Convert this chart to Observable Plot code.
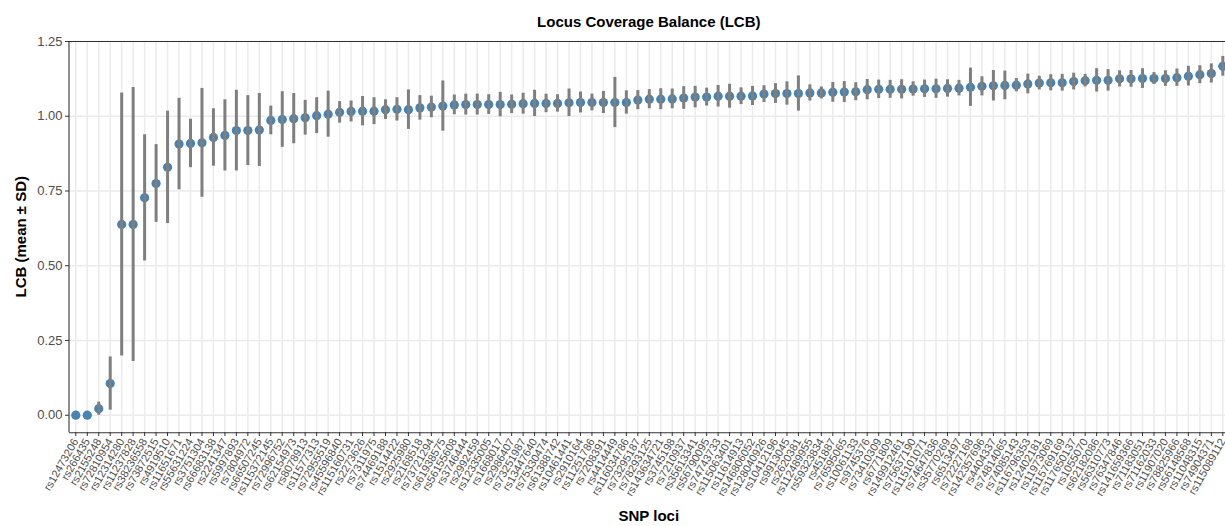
<!DOCTYPE html>
<html>
<head>
<meta charset="utf-8">
<script src="https://cdn.jsdelivr.net/npm/d3@7"></script>
<script src="https://cdn.jsdelivr.net/npm/@observablehq/plot@0.6"></script>
<style>
  html, body { margin: 0; padding: 0; background: #fff; }
  #chart svg { display: block; }
</style>
</head>
<body>
<div id="chart"></div>
<script>
// SNP loci, ordered by mean locus coverage balance
const loci = [
  "rs12473206","rs266435","rs2155248","rs72810954","rs12314280","rs11237828","rs38236558","rs73872515","rs4919510","rs11651671",
  "rs55631224","rs3751304","rs66683138","rs2241347","rs5997893","rs7804972","rs66507245","rs115372145","rs72996752","rs62154973",
  "rs8078913","rs11577313","rs72955519","rs45596840","rs115160731","rs2273626","rs7311975","rs74469188","rs1514422","rs2925980",
  "rs2168518","rs73721294","rs61938575","rs56155608","rs3746444","rs2992459","rs12335005","rs1668017","rs2986407","rs73251987",
  "rs13447640","rs75330474","rs61388742","rs10461441","rs2910164","rs11251786","rs7208391","rs4414449","rs116034786","rs73295187",
  "rs78293125","rs143634721","rs3745198","rs7210937","rs35613341","rs56790095","rs74743733","rs115063401","rs11614913","rs146806052",
  "rs128040926","rs10412196","rs9913045","rs2620381","rs112489955","rs59323834","rs451887","rs76595065","rs10061133","rs9745376",
  "rs73410309","rs6771809","rs149912461","rs75637190","rs115101071","rs74647836","rs35770269","rs6513497","rs72227168","rs142357696",
  "rs4404337","rs74814065","rs74085143","rs116796353","rs12402181","rs11973069","rs115769169","rs117650137","rs1055070","rs62182086",
  "rs56310773","rs76347846","rs141659366","rs71183051","rs71162033","rs11907020","rs78825966","rs56148568","rs11048315","rs74904371",
  "rs115089112"
];

// mean LCB per locus
const lcbMean = [
  0.000,0.000,0.022,0.106,0.638,0.638,0.727,0.775,0.829,0.907,
  0.909,0.911,0.929,0.936,0.952,0.952,0.954,0.986,0.989,0.992,
  0.995,1.002,1.007,1.013,1.016,1.017,1.017,1.022,1.023,1.022,
  1.028,1.031,1.034,1.038,1.039,1.039,1.039,1.039,1.040,1.042,
  1.043,1.043,1.043,1.045,1.046,1.046,1.046,1.046,1.046,1.054,
  1.057,1.057,1.058,1.061,1.064,1.064,1.067,1.067,1.067,1.068,
  1.074,1.076,1.076,1.076,1.078,1.078,1.080,1.081,1.082,1.089,
  1.090,1.090,1.090,1.091,1.092,1.092,1.093,1.094,1.097,1.100,
  1.102,1.103,1.104,1.108,1.111,1.112,1.112,1.116,1.119,1.120,
  1.120,1.125,1.125,1.126,1.126,1.126,1.129,1.134,1.139,1.143,
  1.167
];

// standard deviation of LCB per locus
const lcbSD = [
  0.000,0.000,0.022,0.089,0.440,0.458,0.211,0.130,0.188,0.153,
  0.081,0.182,0.096,0.119,0.135,0.117,0.122,0.048,0.093,0.084,
  0.058,0.060,0.077,0.036,0.035,0.049,0.045,0.033,0.039,0.066,
  0.041,0.036,0.084,0.033,0.035,0.035,0.033,0.041,0.031,0.035,
  0.044,0.031,0.029,0.046,0.035,0.028,0.037,0.084,0.039,0.032,
  0.032,0.035,0.033,0.038,0.036,0.030,0.036,0.040,0.028,0.032,
  0.028,0.033,0.039,0.059,0.027,0.020,0.033,0.035,0.030,0.034,
  0.031,0.030,0.032,0.024,0.029,0.032,0.029,0.026,0.064,0.032,
  0.051,0.048,0.022,0.033,0.023,0.027,0.028,0.028,0.021,0.039,
  0.036,0.027,0.028,0.033,0.020,0.026,0.029,0.033,0.030,0.032,
  0.033
];

const yTicks = [0, 0.25, 0.5, 0.75, 1.0, 1.25];

const rows = loci.map((locus, i) => ({locus, mean: lcbMean[i], sd: lcbSD[i]}));

const W = 1225, H = 526;
const font = "'Liberation Sans', Arial, Helvetica, sans-serif";
const yMin = -0.0588, yMax = 1.25;

const chart = Plot.plot({
  width: W,
  height: H,
  marginTop: 41,
  marginBottom: 94,
  marginLeft: 69,
  marginRight: 0,
  style: {fontFamily: font, background: "#fff"},
  // the panel runs a few pixels past the right edge of the canvas
  x: {type: "point", domain: loci, range: [75.3, 1222.3], padding: 0, label: null},
  y: {domain: [yMin, yMax], range: [432.3, 41], label: null},
  marks: [
    Plot.gridX(loci, {stroke: "#ebebeb", strokeOpacity: 1, strokeWidth: 1.5}),
    Plot.gridY(yTicks, {stroke: "#ebebeb", strokeOpacity: 1, strokeWidth: 1.5}),
    // panel border: top and bottom edges
    Plot.ruleY([yMin, yMax], {stroke: "#333", strokeWidth: 1.1}),
    Plot.axisY(yTicks, {
      tickSize: 4, tickPadding: 3, fontSize: 13, color: "#4d4d4d",
      stroke: "#333", tickFormat: d3.format(".2f"), label: null
    }),
    Plot.axisX(loci, {
      tickSize: 4, tickPadding: 3, tickRotate: -60, fontSize: 11,
      color: "#4d4d4d", stroke: "#333", label: null
    }),
    Plot.dot(rows, {x: "locus", y: "mean", r: 4.6, fill: "#4682b4", stroke: "none"}),
    Plot.ruleX(rows, {
      x: "locus",
      y1: d => d.mean - d.sd,
      y2: d => d.mean + d.sd,
      stroke: "#7f7f7f",
      strokeWidth: 3
    })
  ]
});

const svg = d3.select(chart);
const yScale = chart.scale("y");

// panel border: left edge
svg.append("line")
  .attr("x1", 69).attr("x2", 69)
  .attr("y1", yScale.range[1]).attr("y2", yScale.range[0])
  .attr("stroke", "#333").attr("stroke-width", 1.1);

svg.selectAll("g[aria-label='y-axis tick label'] text, g[aria-label='x-axis tick label'] text")
  .attr("fill", "#4d4d4d");

// chart title and axis titles
svg.append("text")
  .attr("x", 648.8).attr("y", 26.5)
  .attr("text-anchor", "middle")
  .attr("font-family", font).attr("font-size", 15).attr("font-weight", "bold")
  .attr("fill", "#000")
  .text("Locus Coverage Balance (LCB)");

svg.append("text")
  .attr("transform", "translate(25.5,236.7) rotate(-90)")
  .attr("text-anchor", "middle")
  .attr("font-family", font).attr("font-size", 15).attr("font-weight", "bold")
  .attr("fill", "#000")
  .text("LCB (mean ± SD)");

svg.append("text")
  .attr("x", 648.8).attr("y", 521)
  .attr("text-anchor", "middle")
  .attr("font-family", font).attr("font-size", 15).attr("font-weight", "bold")
  .attr("fill", "#000")
  .text("SNP loci");

document.getElementById("chart").appendChild(chart);
</script>
</body>
</html>
